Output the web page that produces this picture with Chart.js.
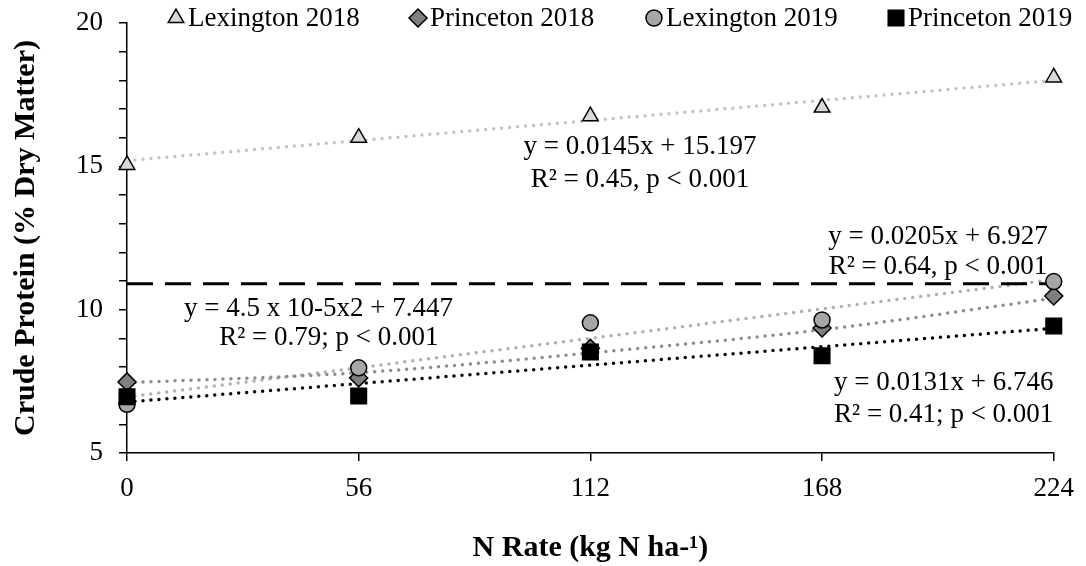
<!DOCTYPE html>
<html>
<head>
  <meta charset="utf-8">
  <title>Crude Protein vs N Rate</title>
  <script src="https://cdn.jsdelivr.net/npm/chart.js"></script>
  <style>
    html, body { margin: 0; padding: 0; background: #fff; }
    #wrap { width: 1086px; height: 566px; }
  </style>
</head>
<body>
  <div id="wrap"><canvas id="cp"></canvas></div>

  <script>
    const FONT = '"Liberation Serif", "Times New Roman", serif';

    // N rates (kg N/ha) and crude protein (% DM)
    const nRates = [0, 56, 112, 168, 224];
    const lex2018 = [15.05, 16.0, 16.75, 17.05, 18.1];
    const pri2018 = [7.48, 7.62, 8.65, 9.36, 10.48];
    const lex2019 = [6.7, 7.97, 9.54, 9.64, 10.98];
    const pri2019 = [6.96, 6.99, 8.52, 8.39, 9.43];

    // trend lines, as drawn in the figure
    const trendX = [0, 224];
    const lex2018Trend = [15.2, 18.0];
    const lex2019Trend = [6.95, 11.05];
    const pri2019Trend = [6.78, 9.35];
    const pri2018Trend = [7.45, 7.8, 8.49, 9.3, 10.4];   // curved fit, at nRates
    const refLevel = [10.9, 10.9];                       // dashed line

    const yTicks = [5, 10, 15, 20];
    const xTicks = [0, 56, 112, 168, 224];

    // fit equations, placed in data units
    const eqText = [
      'y = 0.0145x + 15.197', 'R² = 0.45, p < 0.001',
      'y = 0.0205x + 6.927', 'R² = 0.64, p < 0.001',
      'y = 4.5 x 10-5x2 + 7.447', 'R² = 0.79; p < 0.001',
      'y = 0.0131x + 6.746', 'R² = 0.41; p < 0.001'
    ];
    const eqX = [124, 124, 196, 196, 46.3, 48.8, 197.4, 197.4];
    const eqY = [15.67, 14.52, 12.54, 11.49, 10.02, 9.01, 7.44, 6.33];

    const pts = (xs, ys) => xs.map((x, i) => ({ x: x, y: ys[i] }));

    function markers(label, ys, style, r, fill, order) {
      return {
        label: label, data: pts(nRates, ys), showLine: false, clip: false,
        pointStyle: style, pointRadius: r, pointHoverRadius: r,
        pointBackgroundColor: fill, pointBorderColor: '#000', pointBorderWidth: 1.5,
        backgroundColor: fill, borderColor: '#000', order: order, legend: true
      };
    }

    function trend(xs, ys, color, dash) {
      return {
        data: pts(xs, ys), borderColor: color, borderWidth: dash ? 3 : 3.5,
        borderDash: dash || [0, 8], borderCapStyle: dash ? 'butt' : 'round',
        pointRadius: 0, cubicInterpolationMode: 'monotone', order: 10, fill: false, clip: false
      };
    }

    const datasets = [
      markers('Lexington 2018', lex2018, 'triangle', 9, '#d9d9d9', 3),
      markers('Princeton 2018', pri2018, 'rectRot', 9, '#808080', 2),
      markers('Lexington 2019', lex2019, 'circle', 8, '#a6a6a6', 1),
      markers('Princeton 2019', pri2019, 'rect', 11, '#000', 0),
      trend(trendX, refLevel, '#000', [26, 12]),
      trend(trendX, lex2018Trend, '#c4c4c4'),
      trend(nRates, pri2018Trend, '#8c8c8c'),
      trend(trendX, lex2019Trend, '#b0b0b0'),
      trend(trendX, pri2019Trend, '#000')
    ];

    // legend across the top, Excel style
    const legendX = [176, 418, 654, 896];
    const legendY = 18;
    const legendPlugin = {
      id: 'topLegend',
      afterDraw(chart) {
        const ctx = chart.ctx;
        ctx.save();
        ctx.font = '27px ' + FONT;
        ctx.textBaseline = 'middle';
        ctx.textAlign = 'left';
        chart.data.datasets.filter(d => d.legend).forEach((d, i) => {
          ctx.fillStyle = d.backgroundColor;
          ctx.strokeStyle = d.borderColor;
          ctx.lineWidth = d.pointBorderWidth;
          Chart.helpers.drawPoint(ctx, { pointStyle: d.pointStyle, radius: d.pointRadius, borderWidth: d.pointBorderWidth, rotation: 0 }, legendX[i], legendY);
          ctx.fillStyle = '#000';
          ctx.fillText(d.label, legendX[i] + 12, legendY + 1);
        });
        ctx.restore();
      }
    };

    const eqPlugin = {
      id: 'eqText',
      afterDraw(chart) {
        const { ctx, scales: { x, y } } = chart;
        ctx.save();
        ctx.font = '27px ' + FONT;
        ctx.fillStyle = '#000';
        ctx.textAlign = 'center';
        ctx.textBaseline = 'middle';
        eqText.forEach((t, i) => ctx.fillText(t, x.getPixelForValue(eqX[i]), y.getPixelForValue(eqY[i])));
        ctx.restore();
      }
    };

    const axisGrid = { drawOnChartArea: false, drawTicks: true, tickLength: 8, color: '#000', lineWidth: 1.5 };

    new Chart(document.getElementById('cp'), {
      type: 'line',
      data: { datasets: datasets },
      options: {
        responsive: true,
        maintainAspectRatio: false,
        animation: false,
        layout: { padding: { left: 0, top: 23, right: 30, bottom: 0 } },
        plugins: { legend: { display: false }, tooltip: { enabled: false } },
        scales: {
          x: {
            type: 'linear', min: 0, max: 224,
            afterFit: s => { s.height = 113; },
            afterBuildTicks: s => { s.ticks = xTicks.map(v => ({ value: v })); },
            border: { color: '#000', width: 1.5 },
            grid: axisGrid,
            ticks: { color: '#000', font: { family: FONT, size: 27 }, padding: 12, maxRotation: 0 },
            title: {
              display: true, text: 'N Rate (kg N ha-¹)', color: '#000',
              font: { family: FONT, size: 30, weight: 'bold' }, padding: { top: 0, bottom: 0 }
            }
          },
          y: {
            min: 5, max: 20,
            afterFit: s => { s.width = 127; s.paddingTop = 0; s.paddingBottom = 0; },
            border: { color: '#000', width: 1.5 },
            grid: axisGrid,
            ticks: {
              stepSize: 1, autoSkip: false, color: '#000', padding: 16,
              font: { family: FONT, size: 27 },
              callback: v => yTicks.includes(v) ? v : ''
            },
            title: {
              display: true, text: 'Crude Protein (% Dry Matter)', color: '#000',
              font: { family: FONT, size: 30, weight: 'bold' }, padding: { top: 8, bottom: 0 }
            }
          }
        }
      },
      plugins: [eqPlugin, legendPlugin]
    });
  </script>
</body>
</html>
